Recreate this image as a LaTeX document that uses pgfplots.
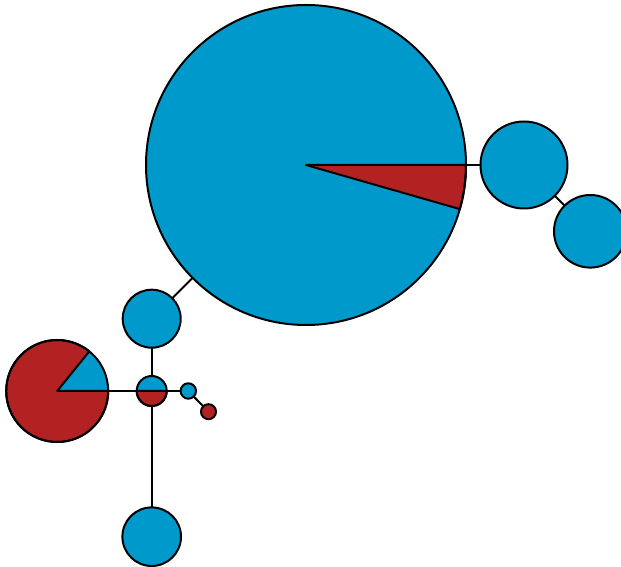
\documentclass[border=0pt]{standalone}
\usepackage{pgfplots}
\pgfplotsset{compat=1.18}
\definecolor{nblue}{RGB}{0,153,204}
\definecolor{nred}{RGB}{178,34,34}
\pgfdeclareplotmark{pienone}{}
\begin{document}
\begin{tikzpicture}
\begin{axis}[
  x=1pt, y=1pt, xmin=0, xmax=621, ymin=0, ymax=567,
  hide axis, clip marker paths=true,
]
\coordinate (ll) at (axis cs:0,0);
\coordinate (ur) at (axis cs:621,567);
% edges
\addplot[black, line width=2pt] coordinates {(306,402) (524,402)};
\addplot[black, line width=2pt] coordinates {(524,402) (590.3,335.7)};
\addplot[black, line width=2pt] coordinates {(306,402) (151.7,248.3)};
\addplot[black, line width=2pt] coordinates {(151.7,248.3) (151.7,176)};
\addplot[black, line width=2pt] coordinates {(151.7,176) (151.7,30.3)};
\addplot[black, line width=2pt] coordinates {(57.2,176) (151.7,176)};
\addplot[black, line width=2pt] coordinates {(151.7,176) (188.3,176)};
\addplot[black, line width=2pt] coordinates {(188.3,176) (208.5,155.3)};
% plain blue nodes
\addplot[scatter, only marks, mark=pienone,
  visualization depends on={value \thisrow{r} \as \pieR},
  scatter/@pre marker code/.code={\filldraw[fill=nblue, draw=black, line width=2pt] (0,0) circle[radius=\pieR pt];},
  scatter/@post marker code/.code={}] table {
x y r
524 402 43.5
590.3 335.7 36.3
151.7 248.3 29
151.7 30.3 29.3
188.3 176 7.7
};
% plain red nodes
\addplot[scatter, only marks, mark=pienone,
  visualization depends on={value \thisrow{r} \as \pieR},
  scatter/@pre marker code/.code={\filldraw[fill=nred, draw=black, line width=2pt] (0,0) circle[radius=\pieR pt];},
  scatter/@post marker code/.code={}] table {
x y r
208.5 155.3 7.5
};
% pie nodes (blue with red wedge from sa to ea)
\addplot[scatter, only marks, mark=pienone,
  visualization depends on={value \thisrow{r} \as \pieR},
  visualization depends on={value \thisrow{sa} \as \pieS},
  visualization depends on={value \thisrow{ea} \as \pieE},
  scatter/@pre marker code/.code={
    \fill[nblue] (0,0) circle[radius=\pieR pt];
    \filldraw[fill=nred, draw=black, line width=2pt, line join=round] (0,0) -- (\pieS:\pieR pt) arc[start angle=\pieS, end angle=\pieE, radius=\pieR pt] -- cycle;
    \draw[black, line width=2pt] (0,0) circle[radius=\pieR pt];
  },
  scatter/@post marker code/.code={}] table {
x y r sa ea
306 402 160 -16 0
57.2 176 51 51 360
151.7 176 15 180 360
};
\end{axis}
\pgfresetboundingbox
\path[use as bounding box] (ll) rectangle (ur);
\end{tikzpicture}
\end{document}
